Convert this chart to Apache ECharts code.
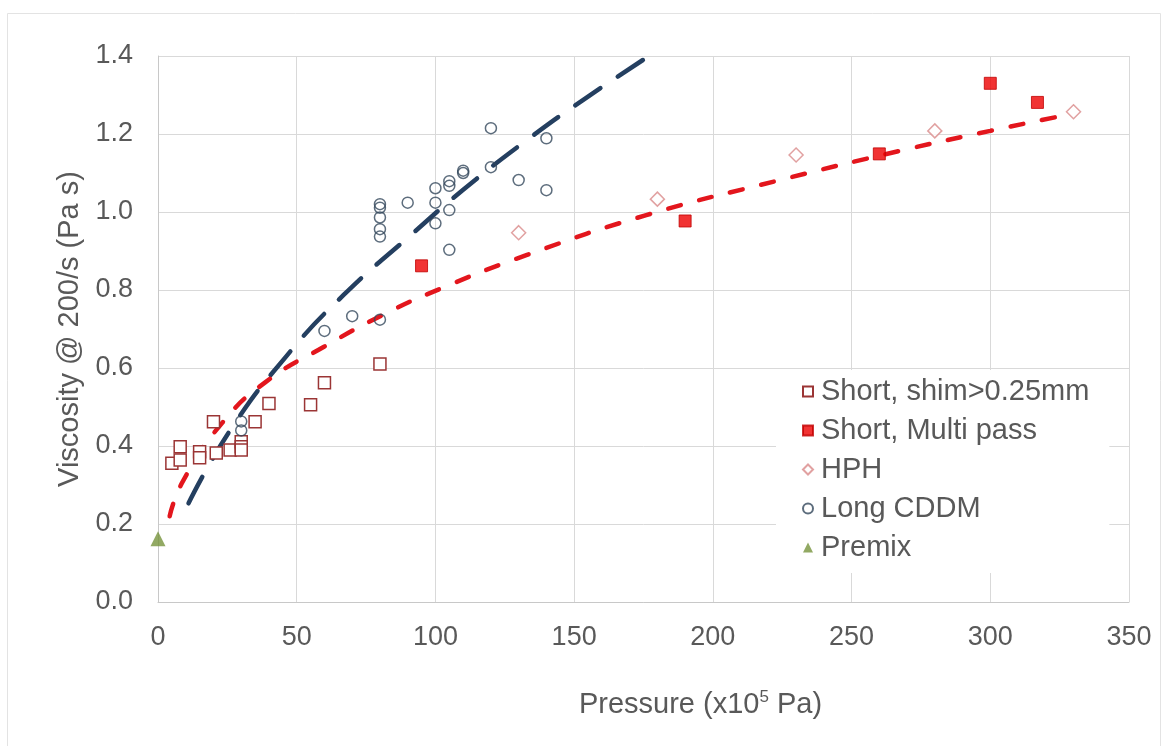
<!DOCTYPE html>
<html>
<head>
<meta charset="utf-8">
<script src="https://cdn.jsdelivr.net/npm/echarts@6/dist/echarts.min.js"></script>
<style>
  html, body { margin: 0; padding: 0; background: #fff; }
  #chart { width: 1168px; height: 746px; }
</style>
</head>
<body>
<div id="chart"></div>
<script>
// Axis ticks
const xTicks = [0, 50, 100, 150, 200, 250, 300, 350];
const yTicks = [0, 0.2, 0.4, 0.6, 0.8, 1.0, 1.2, 1.4];

// Measured points: [pressure (x10^5 Pa), viscosity @ 200/s (Pa s)]
const shortShim = [
  [5, 0.356], [8, 0.398], [8, 0.364], [15, 0.385], [15, 0.37],
  [20, 0.462], [21, 0.382], [26, 0.39], [30, 0.411], [30, 0.398],
  [30, 0.39], [35, 0.462], [40, 0.509], [55, 0.506], [60, 0.562], [80, 0.61]
];
const shortMultiPass = [
  [95, 0.862], [190, 0.977], [260, 1.149], [300, 1.33], [317, 1.281]
];
const hph = [
  [130, 0.947], [180, 1.033], [230, 1.146], [280, 1.208], [330, 1.257]
];
const longCDDM = [
  [30, 0.463], [30, 0.44], [60, 0.695], [70, 0.733], [80, 0.724],
  [80, 1.02], [80, 1.011], [80, 0.986], [80, 0.956], [80, 0.937],
  [90, 1.024], [100, 1.061], [100, 1.024], [100, 0.971],
  [105, 1.079], [105, 1.067], [105, 1.005], [105, 0.903],
  [110, 1.106], [110, 1.1], [120, 1.215], [120, 1.115],
  [130, 1.082], [140, 1.189], [140, 1.056]
];
const premix = [[0, 0.162]];

// Trend curves traced as point sequences
const trendShort = [
  [4.2, 0.22], [9, 0.31], [23, 0.458], [39, 0.565], [60, 0.655],
  [81, 0.736], [102, 0.804], [133, 0.89], [176, 0.992], [222, 1.078],
  [267, 1.156], [300, 1.208], [327, 1.248]
];
const trendLong = [
  [11, 0.253], [26, 0.44], [46, 0.628], [67, 0.788], [91, 0.94],
  [110, 1.057], [134, 1.19], [155, 1.296], [177, 1.4]
];

const FONT = '"Liberation Sans", Arial, sans-serif';
const TXT = '#595959';

const chart = echarts.init(document.getElementById('chart'), null, { renderer: 'canvas' });

chart.setOption({
  backgroundColor: '#ffffff',
  animation: false,
  textStyle: { fontFamily: FONT, color: TXT },
  graphic: [{
    type: 'rect',
    shape: { x: 7.5, y: 13.5, width: 1153, height: 760 },
    style: { fill: 'none', stroke: '#e3e3e3', lineWidth: 1 },
    silent: true,
    z: -10
  }],
  grid: { left: 158, right: 39, top: 56, bottom: 144 },
  xAxis: {
    type: 'value',
    min: 0, max: 350, interval: 50,
    axisLine: { show: true, lineStyle: { color: '#c8c8c8', width: 1 } },
    axisTick: { show: false },
    splitLine: { show: true, lineStyle: { color: '#d9d9d9', width: 1 } },
    axisLabel: {
      margin: 22, fontSize: 27, color: TXT, fontFamily: FONT,
      formatter: v => xTicks.includes(v) ? String(v) : ''
    },
    name: '{a|Pressure (x10}{s|5}{a| Pa)}',
    nameLocation: 'middle',
    nameGap: 87,
    nameTextStyle: {
      padding: [0, 0, 0, 114],
      rich: {
        a: { fontSize: 29, color: TXT, fontFamily: FONT, lineHeight: 32 },
        s: { fontSize: 17, color: TXT, fontFamily: FONT, verticalAlign: 'top', lineHeight: 32 }
      }
    }
  },
  yAxis: {
    type: 'value',
    min: 0, max: 1.4, interval: 0.2,
    axisLine: { show: true, lineStyle: { color: '#c8c8c8', width: 1 } },
    axisTick: { show: false },
    splitLine: { show: true, lineStyle: { color: '#d9d9d9', width: 1 } },
    axisLabel: {
      margin: 25, fontSize: 27, color: TXT, fontFamily: FONT,
      formatter: v => {
        const t = yTicks.find(k => Math.abs(k - v) < 1e-6);
        return t === undefined ? '' : t.toFixed(1);
      }
    },
    name: 'Viscosity @ 200/s (Pa s)',
    nameLocation: 'middle',
    nameGap: 73,
    nameTextStyle: { fontSize: 29, color: TXT, fontFamily: FONT }
  },
  legend: {
    orient: 'vertical',
    left: 776,
    top: 370,
    width: 338,
    backgroundColor: '#ffffff',
    padding: [6, 20, 10, 26],
    itemWidth: 10,
    itemHeight: 10,
    itemGap: 8,
    textStyle: { fontSize: 29, color: TXT, fontFamily: FONT, lineHeight: 31, padding: [0, 0, 0, 3] },
    data: [
      { name: 'Short, shim>0.25mm', icon: 'rect' },
      { name: 'Short, Multi pass', icon: 'rect' },
      { name: 'HPH', icon: 'diamond' },
      { name: 'Long CDDM', icon: 'circle' },
      { name: 'Premix', icon: 'triangle' }
    ],
    z: 20
  },
  series: [
    {
      name: 'Long CDDM trend',
      type: 'line',
      data: trendLong,
      smooth: true,
      symbol: 'none',
      silent: true,
      lineStyle: { color: '#243f60', width: 4.5, type: [30, 21], cap: 'round' },
      z: 3
    },
    {
      name: 'Short trend',
      type: 'line',
      data: trendShort,
      smooth: true,
      symbol: 'none',
      silent: true,
      lineStyle: { color: '#e3161d', width: 4.5, type: [13, 19], cap: 'round' },
      z: 3
    },
    {
      name: 'Short, shim>0.25mm',
      type: 'scatter',
      data: shortShim,
      symbol: 'rect',
      symbolSize: 12,
      itemStyle: { color: '#ffffff', borderColor: '#9b3535', borderWidth: 1.5, opacity: 1 },
      z: 5
    },
    {
      name: 'Short, Multi pass',
      type: 'scatter',
      data: shortMultiPass,
      symbol: 'rect',
      symbolSize: 12,
      itemStyle: { color: '#ee0000', borderColor: '#c00000', borderWidth: 1 },
      z: 6
    },
    {
      name: 'HPH',
      type: 'scatter',
      data: hph,
      symbol: 'diamond',
      symbolSize: 14,
      itemStyle: { color: '#ffffff', borderColor: '#d98a8a', borderWidth: 1.5 },
      z: 5
    },
    {
      name: 'Long CDDM',
      type: 'scatter',
      data: longCDDM,
      symbol: 'circle',
      symbolSize: 11,
      itemStyle: { color: 'rgba(255,255,255,0)', borderColor: '#34495c', borderWidth: 1.5 },
      z: 5
    },
    {
      name: 'Premix',
      type: 'scatter',
      data: premix,
      symbol: 'triangle',
      symbolSize: 15,
      itemStyle: { color: '#77933c' },
      clip: false,
      z: 6
    }
  ]
});
</script>
</body>
</html>
